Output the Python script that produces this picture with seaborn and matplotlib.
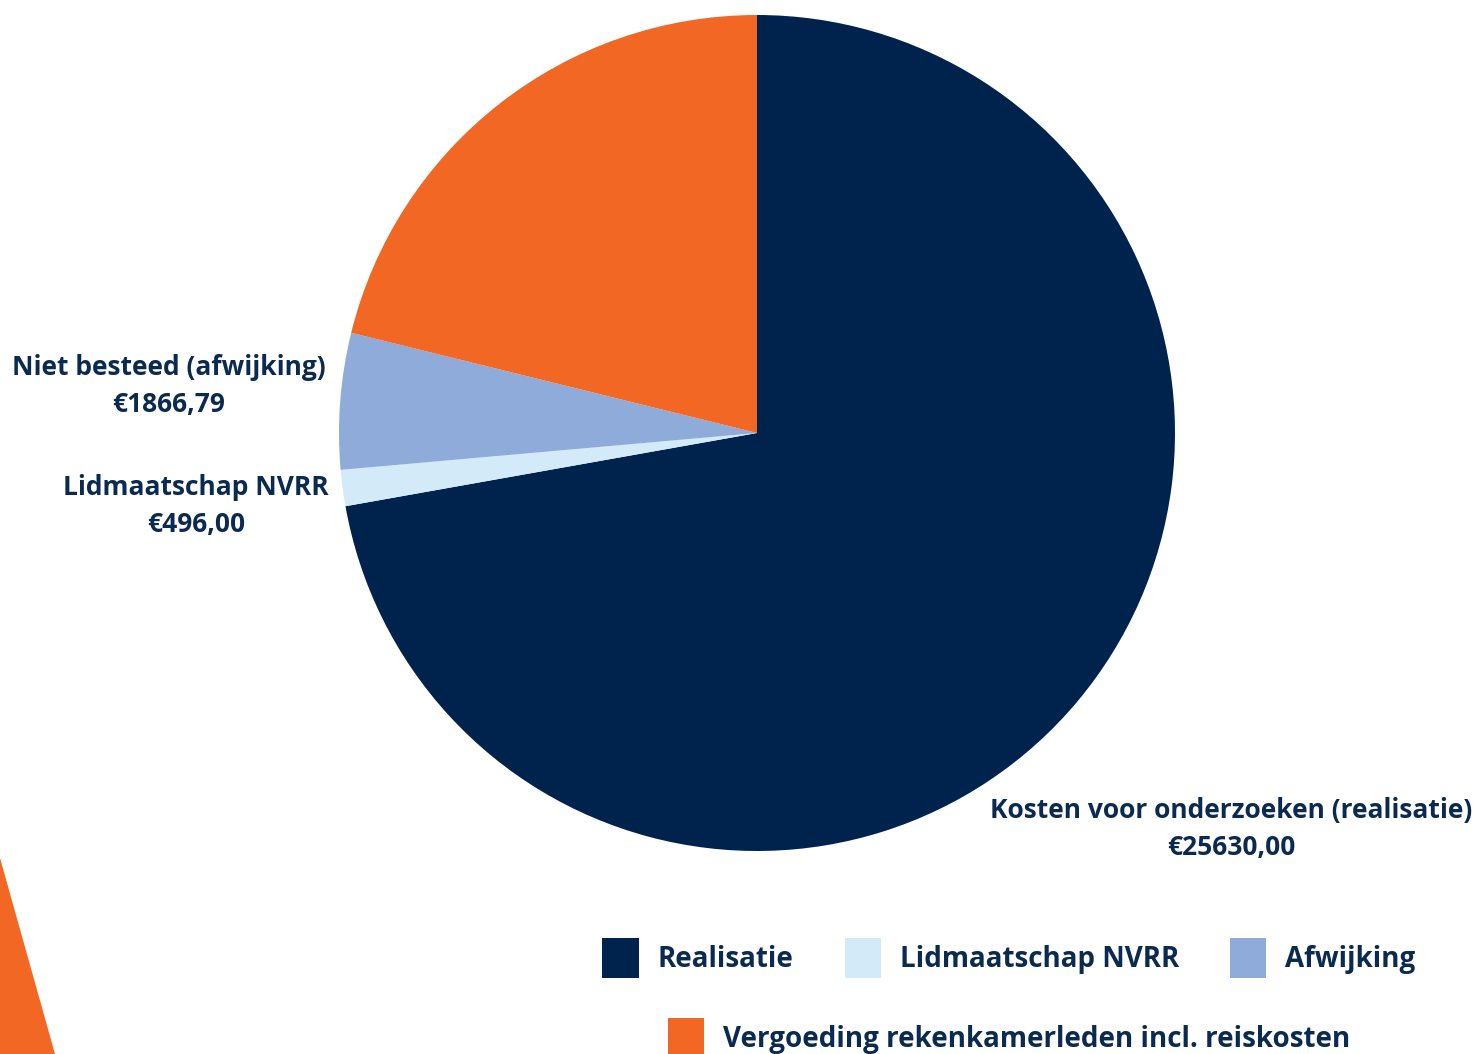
import matplotlib
matplotlib.use("Agg")
import matplotlib.pyplot as plt
import seaborn as sns
from matplotlib.patches import Patch, Polygon

# data
categories = ["Realisatie", "Lidmaatschap NVRR", "Afwijking",
              "Vergoeding rekenkamerleden incl. reiskosten"]
values = [25630.00, 496.00, 1866.79, 7507.21]
slice_labels = ["Kosten voor onderzoeken (realisatie)\n€25630,00",
                "Lidmaatschap NVRR\n€496,00",
                "Niet besteed (afwijking)\n€1866,79",
                None]
colors = ["#00234D", "#D3EAF9", "#8FABDA", "#F26724"]

sns.set_theme(style="white")
plt.rcParams['font.family'] = ['Open Sans', 'DejaVu Sans']
navy = "#0B2A4F"

fig = plt.figure(figsize=(14.77, 10.54), dpi=100)

# decorative orange corner shape
fig.patches.append(Polygon([[0, 0], [55 / 1477, 0], [0, 1 - 858 / 1054]],
                           closed=True, transform=fig.transFigure,
                           facecolor="#F26724", edgecolor="none"))

ax = fig.add_axes([339 / 1477, 1 - 851 / 1054, 836 / 1477, 836 / 1054])
ax.pie(values, colors=colors, startangle=90, counterclock=False,
       wedgeprops=dict(linewidth=0))
ax.set_xlim(-1, 1)
ax.set_ylim(-1, 1)
ax.set_aspect("equal")
ax.axis("off")

# slice labels (placed like the original, outside the pie)
label_pos = [(1231, 829), (196, 506), (169, 386)]
for lbl, (px, py) in zip(slice_labels, label_pos):
    fig.text(px / 1477, 1 - py / 1054, lbl, ha="center", va="center",
             fontsize=19, fontweight="bold", color=navy, linespacing=1.45)

# legend, split in two rows like the original
handles = [Patch(facecolor=c, edgecolor="none") for c in colors]
leg_kw = dict(frameon=False, handlelength=1.3, handleheight=1.8,
              handletextpad=0.68, columnspacing=1.85, borderaxespad=0,
              prop=dict(weight="bold", size=20))
leg1 = fig.legend(handles[:3], categories[:3], ncol=3, loc="center",
                  bbox_to_anchor=(1009 / 1477, 1 - 958 / 1054), **leg_kw)
leg2 = fig.legend(handles[3:], categories[3:], ncol=1, loc="center",
                  bbox_to_anchor=(1009 / 1477, 1 - 1038 / 1054), **leg_kw)
for leg in (leg1, leg2):
    for t in leg.get_texts():
        t.set_color(navy)

fig.savefig("out.png", dpi=100, facecolor="white")
